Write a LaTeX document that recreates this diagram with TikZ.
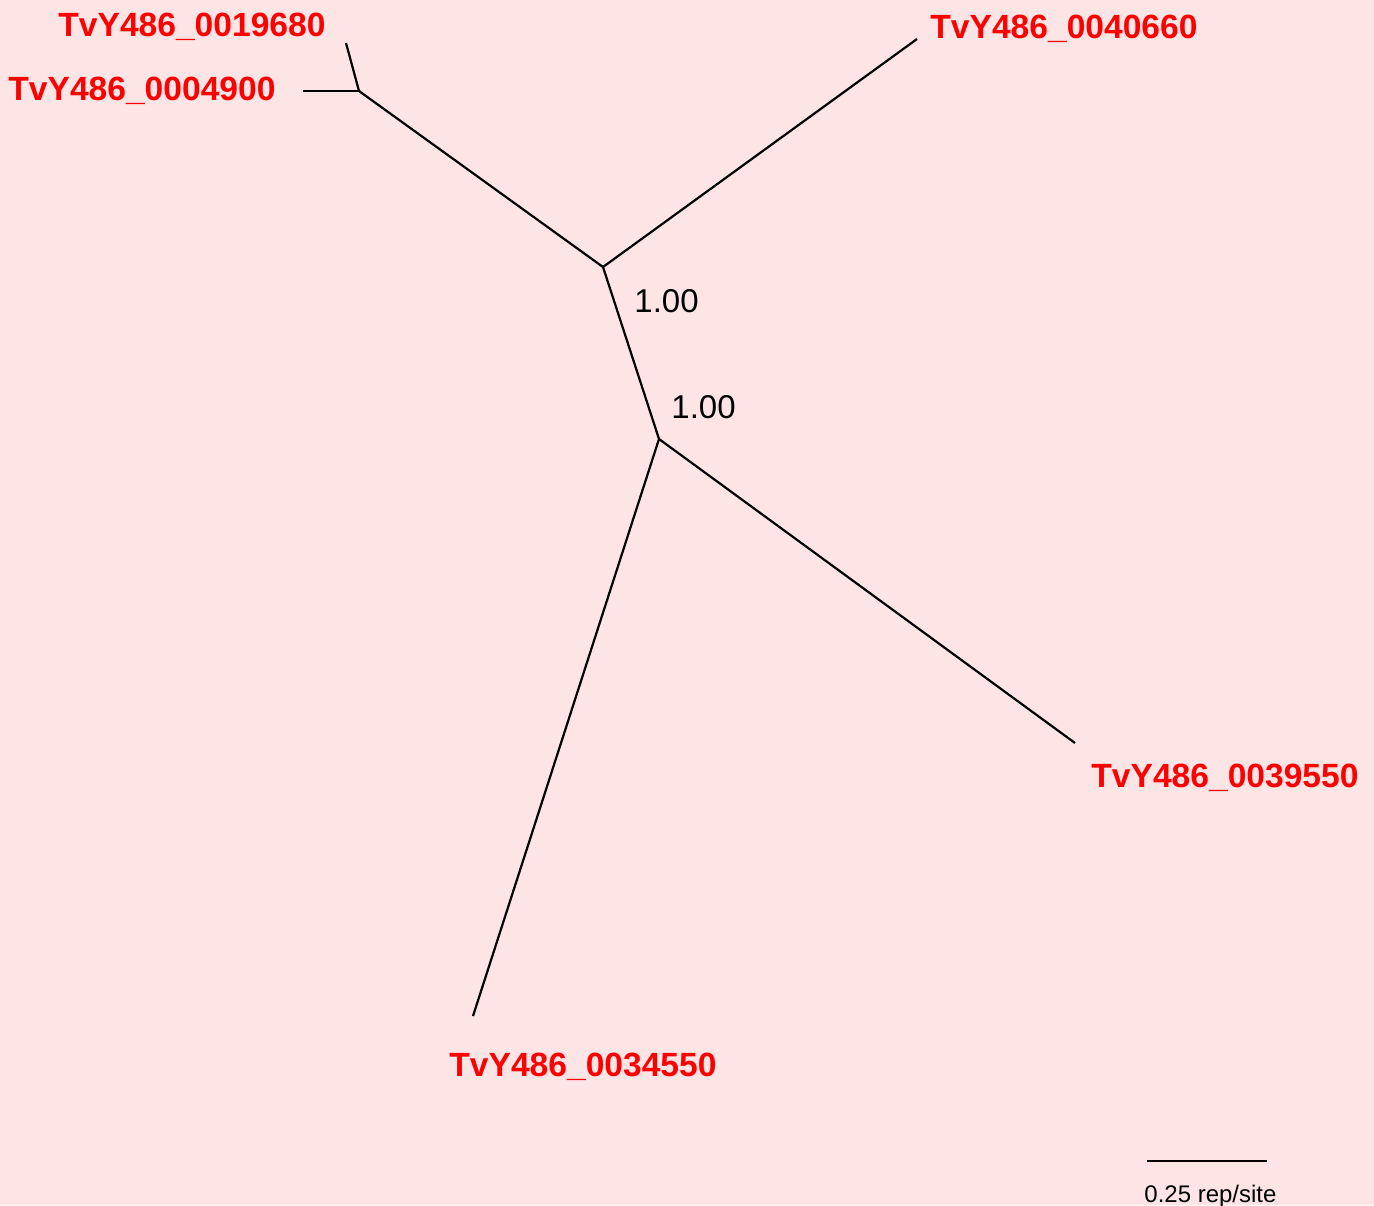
\documentclass[tikz,border=0pt]{standalone}
\usepackage{fontspec}
\setmainfont{Liberation Sans}
\usetikzlibrary{positioning}
\definecolor{TreeBg}{RGB}{253,228,229}
\definecolor{LeafRed}{RGB}{255,0,0}

\begin{document}
\begin{tikzpicture}[x=0.5pt,y=-0.5pt,
    branch/.style={line width=1.1pt},
    leaf/.style={font=\fontsize{16.8}{20}\selectfont\bfseries, text=LeafRed, inner sep=0pt, anchor=base west},
    support/.style={font=\fontsize{16.5}{19.8}\selectfont, inner sep=0pt, anchor=base west}]
  \fill[TreeBg] (0,0) rectangle (1374,1205);
  \useasboundingbox (0,0) rectangle (1374,1205);
  % internal nodes and tips
  \coordinate (n1) at (359,91);
  \coordinate (n2) at (603,267);
  \coordinate (n3) at (659,439);
  \coordinate (t19680) at (346,43);
  \coordinate (t04900) at (303,91);
  \coordinate (t40660) at (917,39);
  \coordinate (t39550) at (1075,743);
  \coordinate (t34550) at (473,1016);
  % branches
  \draw[branch] (t19680) -- (n1);
  \draw[branch] (t04900) -- (n1);
  \draw[branch] (n1) -- (n2);
  \draw[branch] (n2) -- (t40660);
  \draw[branch] (n2) -- (n3);
  \draw[branch] (n3) -- (t39550);
  \draw[branch] (n3) -- (t34550);
  % leaf names
  \node[leaf] (l19680) at (58,36) {TvY486\_0019680};
  \node[leaf] (l04900) at (8,100) {TvY486\_0004900};
  \node[leaf] (l40660) at (930,38) {TvY486\_0040660};
  \node[leaf] (l39550) at (1091,787) {TvY486\_0039550};
  \node[leaf] (l34550) at (449,1076) {TvY486\_0034550};
  % support values
  \node[support] (s2) at (634,312) {1.00};
  \node[support] (s3) at (671,418) {1.00};
  % scale bar
  \coordinate (sbl) at (1147,1161);
  \coordinate (sbr) at (1267,1161);
  \draw[branch] (sbl) -- (sbr);
  \node[inner sep=0pt, anchor=base west, font=\fontsize{12}{14}\selectfont] (sblab) at (1144,1202) {0.25 rep/site};
\end{tikzpicture}
\end{document}
